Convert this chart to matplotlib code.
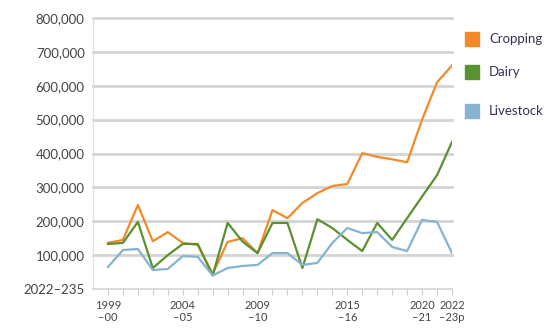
import matplotlib.pyplot as plt
from matplotlib.patches import Rectangle

years = ['1999-00', '2000-01', '2001-02', '2002-03', '2003-04', '2004-05', '2005-06',
         '2006-07', '2007-08', '2008-09', '2009-10', '2010-11', '2011-12', '2012-13',
         '2013-14', '2014-15', '2015-16', '2016-17', '2017-18', '2018-19', '2019-20',
         '2020-21', '2021-22', '2022-23p']
cropping = [136000, 145000, 248000, 141000, 168000, 136000, 130000, 45000, 139000, 150000,
            106000, 233000, 209000, 254000, 283000, 304000, 310000, 401000, 390000, 383000,
            374000, 500000, 610000, 660000]
dairy = [133000, 136000, 198000, 62000, 100000, 133000, 133000, 40000, 195000, 140000,
         106000, 195000, 195000, 62000, 206000, 180000, 145000, 112000, 195000, 145000,
         209000, 273000, 336000, 434000]
livestock = [65000, 115000, 118000, 56000, 59000, 97000, 95000, 40000, 62000, 68000,
             71000, 106000, 106000, 71000, 77000, 136000, 180000, 165000, 168000, 124000,
             112000, 204000, 198000, 106000]

series = ['Cropping', 'Dairy', 'Livestock']
colors = ['#f28a2a', '#5b9130', '#86b3cf']

yticks = [0, 100000, 200000, 300000, 400000, 500000, 600000, 700000, 800000]
ytick_labels = ['2022\u2013235', '100,000', '200,000', '300,000', '400,000',
                '500,000', '600,000', '700,000', '800,000']
xlabel_idx = [0, 5, 10, 16, 21, 23]
xlabels = ['1999\n\u201300', '2004\n\u201305', '2009\n\u201310', '2015\n\u201316',
           '2020\n\u201321', '2022\n\u201323p']

plt.rcParams['font.family'] = ['Lato', 'DejaVu Sans']

fig = plt.figure(figsize=(5.56, 3.32), dpi=100)
ax = fig.add_axes([93 / 556, 43 / 332, 359 / 556, 271 / 332])

x = list(range(len(years)))
for vals, c in zip([cropping, dairy, livestock], colors):
    ax.plot(x, vals, color=c, lw=1.6, zorder=3)

ax.set_xlim(-1, 23)
ax.set_ylim(0, 800000)
ax.set_yticks(yticks)
ax.set_yticklabels(ytick_labels, fontsize=9.5, color='#444444')
for y in yticks[1:]:
    ax.axhline(y, color='#d4d4d4', lw=2, zorder=1, clip_on=False)

ax.set_xticks(x)
lbls = [''] * len(years)
for i, t in zip(xlabel_idx, xlabels):
    lbls[i] = t
ax.set_xticklabels(lbls, fontsize=8, color='#444444', linespacing=1.1)
ax.tick_params(axis='x', length=4, color='#cccccc', pad=4)
ax.tick_params(axis='y', length=0, pad=6)

for s in ['top', 'right']:
    ax.spines[s].set_visible(False)
ax.spines['left'].set_color('#dddddd')
ax.spines['bottom'].set_color('#d4d4d4')
ax.spines['bottom'].set_linewidth(1.2)

# legend drawn by hand on the right
leg_y = [39, 72, 111]
for name, c, yy in zip(series, colors, leg_y):
    fig.patches.append(Rectangle((465 / 556, 1 - (yy + 7) / 332), 14 / 556, 14 / 332,
                                 transform=fig.transFigure, color=c))
    fig.text(489 / 556, 1 - yy / 332, name, fontsize=9.5, color='#333355', va='center')

fig.savefig('out.png', dpi=100)
